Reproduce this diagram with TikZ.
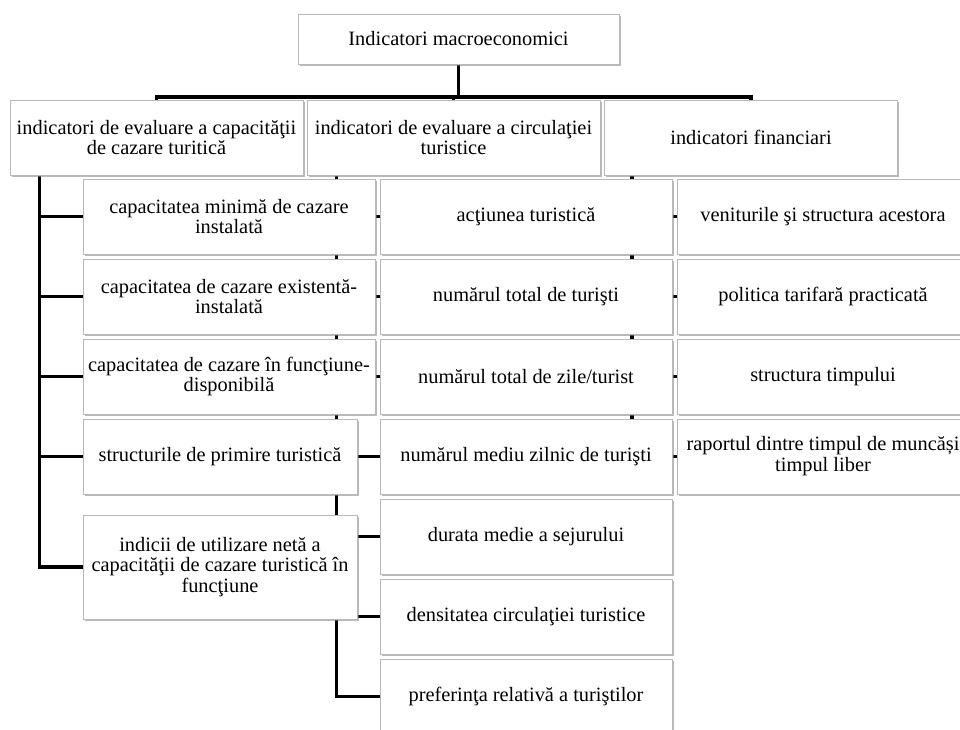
\documentclass[tikz,border=0pt]{standalone}
\usepackage{fontspec}
\setmainfont{Liberation Serif}
\usetikzlibrary{shadows}
\usetikzlibrary{positioning}
\usetikzlibrary{calc,backgrounds}

\begin{document}
\begin{tikzpicture}[x=0.02cm, y=-0.02cm,
  box/.style={draw=black!28, fill=white, align=center, inner sep=2pt,
    font=\fontsize{11.6}{11.9}\selectfont,
    drop shadow={shadow xshift=1.1pt, shadow yshift=-1.3pt, fill=black!50, opacity=0.55}},
  wbox/.style={box, minimum width=5.84cm, minimum height=1.5cm},
  conn/.style={line width=2pt}]

 \useasboundingbox (0,0) rectangle (960,730);

 %level 1
 \node[box, minimum width=6.42cm, minimum height=1cm] (top) at (458.5,39) {Indicatori macroeconomici};

 %level 2
 \foreach \name/\x/\txt in {A/156.5/{indicatori de evaluare a capacităţii\\de cazare turitică},
                            B/453.5/{indicatori de evaluare a circulaţiei\\turistice},
                            C/751/{indicatori financiari}} {
         \node[wbox, minimum width=5.86cm] (\name) at (\x,137.5) {\txt};
 }

 %level 3 - capacitate
 \foreach \i/\txt in {1/{capacitatea minimă de cazare\\instalată},
                      2/{capacitatea de cazare existentă-\\instalată},
                      3/{capacitatea de cazare în funcţiune-\\disponibilă}} {
         \node[wbox] (L\i) at (229,{216.5+80*(\i-1)}) {\txt};
 }
 \node[wbox, minimum width=5.48cm] (L4) at (220,456.5) {structurile de primire turistică};
 \node[wbox, minimum width=5.48cm, minimum height=2.08cm] (L5) at (220,567)
      {indicii de utilizare netă a\\capacităţii de cazare turistică în\\funcţiune};

 %level 3 - circulatie
 \foreach \i/\txt in {1/{acţiunea turistică},
                      2/{numărul total de turişti},
                      3/{numărul total de zile/turist},
                      4/{numărul mediu zilnic de turişti},
                      5/{durata medie a sejurului},
                      6/{densitatea circulaţiei turistice},
                      7/{preferinţa relativă a turiştilor}} {
         \node[wbox] (M\i) at (526,{216.5+80*(\i-1)}) {\txt};
 }

 %level 3 - financiari
 \foreach \i/\txt in {1/{veniturile şi structura acestora},
                      2/{politica tarifară practicată},
                      3/{structura timpului},
                      4/{raportul dintre timpul de muncăși\\timpul liber}} {
         \node[wbox] (R\i) at (823,{216.5+80*(\i-1)}) {\txt};
 }

 %connectors
 \begin{scope}[on background layer]
  \coordinate (bar) at (458.5,97);
  \draw[conn] (top.south) -- (bar);
  \draw[conn] (A.north) |- (bar) -| (C.north);
  \draw[conn] (B.north) |- (bar);

  \coordinate (stemA) at ($(A.south west)+(30,0)$);
  \draw[conn] (stemA) |- (L5.west);
  \foreach \i in {1,...,4} \draw[conn] (stemA |- L\i.west) -- (L\i.west);

  \coordinate (stemB) at ($(B.south west)+(30,0)$);
  \draw[conn] (stemB) |- (M7.west);
  \foreach \i in {1,...,6} \draw[conn] (stemB |- M\i.west) -- (M\i.west);

  \coordinate (stemC) at ($(C.south west)+(28,0)$);
  \draw[conn] (stemC) |- (R4.west);
  \foreach \i in {1,...,3} \draw[conn] (stemC |- R\i.west) -- (R\i.west);
 \end{scope}

\end{tikzpicture}
\end{document}
